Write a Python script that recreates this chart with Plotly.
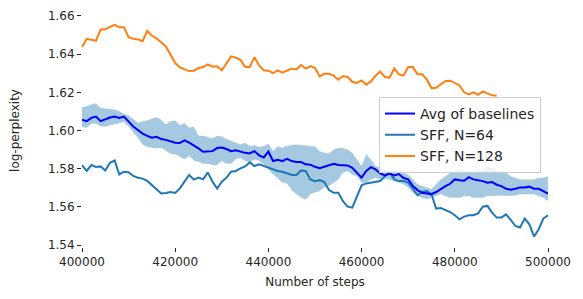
import plotly.graph_objects as go

steps = list(range(400000, 500001, 1000))

sff128 = [1.6437, 1.648, 1.6475, 1.647, 1.6529, 1.653, 1.6543, 1.6553, 1.654, 1.654,
          1.6489, 1.648, 1.6477, 1.6468, 1.6522, 1.6496, 1.6483, 1.646, 1.644, 1.6397,
          1.6353, 1.633, 1.6322, 1.6311, 1.6313, 1.6327, 1.6332, 1.6346, 1.6334, 1.6336,
          1.6315, 1.6353, 1.6388, 1.6381, 1.637, 1.6332, 1.6332, 1.6384, 1.6341, 1.6315,
          1.6313, 1.63, 1.6315, 1.6303, 1.6313, 1.6324, 1.632, 1.6343, 1.6324, 1.6337,
          1.6327, 1.6283, 1.6297, 1.6297, 1.6287, 1.6266, 1.6285, 1.628, 1.6255, 1.6249,
          1.6262, 1.624, 1.6257, 1.6287, 1.6309, 1.628, 1.6277, 1.6325, 1.6294, 1.6287,
          1.6332, 1.6332, 1.6294, 1.6294, 1.6266, 1.6222, 1.6224, 1.6241, 1.6259, 1.6261,
          1.6247, 1.6236, 1.62, 1.6189, 1.62, 1.6187, 1.6205, 1.6194, 1.6184, 1.6182]

avg_baselines = [1.6056, 1.6049, 1.6066, 1.6073, 1.6049, 1.6059, 1.6068, 1.6073, 1.6066, 1.6073,
                 1.6049, 1.6021, 1.6003, 1.5984, 1.5972, 1.5962, 1.5967, 1.5955, 1.5951, 1.5943,
                 1.5936, 1.5934, 1.5948, 1.5936, 1.5923, 1.5906, 1.5889, 1.589, 1.5892, 1.5908,
                 1.5911, 1.5903, 1.5892, 1.5897, 1.5889, 1.5883, 1.588, 1.5892, 1.587, 1.5859,
                 1.5889, 1.584, 1.5847, 1.584, 1.5852, 1.584, 1.5835, 1.5835, 1.5823, 1.5821,
                 1.581, 1.5803, 1.581, 1.5819, 1.5826, 1.5819, 1.5819, 1.5817, 1.5805, 1.5779,
                 1.5753, 1.5788, 1.5808, 1.5796, 1.5775, 1.5765, 1.5774, 1.5765, 1.5772, 1.5751,
                 1.5744, 1.5709, 1.5688, 1.5674, 1.5671, 1.5667, 1.5678, 1.5695, 1.5709, 1.5721,
                 1.5744, 1.574, 1.5737, 1.5756, 1.5744, 1.5739, 1.5735, 1.5727, 1.573, 1.5716,
                 1.5709, 1.5695, 1.569, 1.5695, 1.5702, 1.5701, 1.5706, 1.5695, 1.5695, 1.5683,
                 1.5669]

baseline_upper = [1.6122, 1.6127, 1.6136, 1.6143, 1.6118, 1.6115, 1.6111, 1.6110, 1.6101, 1.6087,
                  1.6080, 1.6061, 1.6040, 1.6049, 1.6052, 1.6063, 1.6070, 1.6056, 1.6031, 1.6049,
                  1.6052, 1.6028, 1.6038, 1.6014, 1.6021, 1.5972, 1.5972, 1.5965, 1.5958, 1.5972,
                  1.5969, 1.5955, 1.5944, 1.5937, 1.5927, 1.5936, 1.5917, 1.5923, 1.5913, 1.5918,
                  1.5930, 1.5892, 1.5918, 1.5910, 1.5920, 1.5923, 1.5927, 1.5923, 1.5923, 1.5918,
                  1.5917, 1.5892, 1.5883, 1.5880, 1.5901, 1.5909, 1.5909, 1.5901, 1.5883, 1.5848,
                  1.5814, 1.5875, 1.5848, 1.5814, 1.5805, 1.5796, 1.5788, 1.5796, 1.5788, 1.5779,
                  1.5770, 1.5744, 1.5718, 1.5709, 1.5701, 1.5692, 1.5718, 1.5744, 1.5761, 1.5779,
                  1.5788, 1.5796, 1.5788, 1.5779, 1.5788, 1.5796, 1.5788, 1.5814, 1.5805, 1.5788,
                  1.5788, 1.5779, 1.5761, 1.5753, 1.5744, 1.5744, 1.5744, 1.5744, 1.5753, 1.5753,
                  1.5761]

baseline_lower = [1.6017, 1.6014, 1.6035, 1.6037, 1.6021, 1.6021, 1.6028, 1.6035, 1.6038, 1.6045,
                  1.6021, 1.5990, 1.5962, 1.5927, 1.5913, 1.5910, 1.5906, 1.5910, 1.5896, 1.5878,
                  1.5875, 1.5861, 1.5849, 1.5866, 1.5843, 1.5837, 1.5826, 1.5826, 1.5819, 1.5819,
                  1.5840, 1.5826, 1.5826, 1.5849, 1.5857, 1.5840, 1.5833, 1.5849, 1.5840, 1.5823,
                  1.5797, 1.5770, 1.5750, 1.5727, 1.5722, 1.5687, 1.5666, 1.5649, 1.5638, 1.5666,
                  1.5675, 1.5683, 1.5701, 1.5709, 1.5727, 1.5744, 1.5779, 1.5788, 1.5770, 1.5761,
                  1.5727, 1.5727, 1.5744, 1.5753, 1.5744, 1.5747, 1.5744, 1.5735, 1.5727, 1.5718,
                  1.5701, 1.5674, 1.5657, 1.5648, 1.5640, 1.5648, 1.5657, 1.5666, 1.5657, 1.5648,
                  1.5648, 1.5648, 1.5657, 1.5657, 1.5648, 1.5648, 1.5648, 1.5657, 1.5657, 1.5657,
                  1.5660, 1.5657, 1.5657, 1.5660, 1.5666, 1.5666, 1.5666, 1.5666, 1.5657, 1.5648,
                  1.5631]

sff64 = [1.5819, 1.5788, 1.5819, 1.5809, 1.5812, 1.5791, 1.5831, 1.5843, 1.577, 1.5784,
         1.5781, 1.5762, 1.5753, 1.5748, 1.5736, 1.5715, 1.5694, 1.567, 1.5673, 1.5678,
         1.5673, 1.5697, 1.5732, 1.5767, 1.5743, 1.5753, 1.5744, 1.5781, 1.5732, 1.5696,
         1.5732, 1.5753, 1.5784, 1.5788, 1.5802, 1.5812, 1.5833, 1.5814, 1.5823, 1.5814,
         1.5802, 1.5793, 1.5788, 1.5784, 1.5776, 1.5767, 1.5767, 1.5791, 1.5788, 1.5744,
         1.5735, 1.574, 1.573, 1.5688, 1.5674, 1.5674, 1.563, 1.5601, 1.5596, 1.5657,
         1.5713, 1.5723, 1.5727, 1.5732, 1.5735, 1.5761, 1.5782, 1.5744, 1.5735, 1.5735,
         1.5727, 1.5695, 1.5661, 1.5678, 1.5683, 1.5666, 1.5591, 1.5594, 1.5584, 1.5573,
         1.5556, 1.5535, 1.5549, 1.5556, 1.5556, 1.5566, 1.5601, 1.5605, 1.557, 1.5544,
         1.5544, 1.5561, 1.5532, 1.55, 1.5492, 1.5539, 1.5509, 1.5445, 1.5483, 1.5539,
         1.5556]

x_ticks = [400000, 420000, 440000, 460000, 480000, 500000]
y_ticks = [1.54, 1.56, 1.58, 1.60, 1.62, 1.64, 1.66]

fig = go.Figure()

# shaded band of the baselines
fig.add_trace(go.Scatter(x=steps + steps[::-1], y=baseline_upper + baseline_lower[::-1],
                         fill="toself", fillcolor="rgba(31,119,180,0.4)",
                         line=dict(width=0), mode="lines", showlegend=False, hoverinfo="skip"))

fig.add_trace(go.Scatter(x=steps, y=sff64, mode="lines", name="SFF, N=64",
                         line=dict(color="#1f77b4", width=2), legendrank=2))
fig.add_trace(go.Scatter(x=steps[:len(sff128)], y=sff128, mode="lines", name="SFF, N=128",
                         line=dict(color="#ff7f0e", width=2), legendrank=3))
fig.add_trace(go.Scatter(x=steps, y=avg_baselines, mode="lines", name="Avg of baselines",
                         line=dict(color="#0000ff", width=2), legendrank=1))

fig.update_layout(
    width=583, height=299,
    margin=dict(l=82, r=35, t=14, b=52),
    paper_bgcolor="white", plot_bgcolor="white",
    font=dict(family="DejaVu Sans", size=12, color="#262626"),
    legend=dict(x=0.985, xanchor="right", y=0.644, yanchor="top",
                bgcolor="rgba(255,255,255,0.8)", bordercolor="#cccccc", borderwidth=1,
                font=dict(size=14, color="#262626"), traceorder="normal",
                tracegroupgap=0, itemwidth=30),
    showlegend=True,
)
fig.update_xaxes(range=[400000, 500000], tickvals=x_ticks, ticktext=[str(v) for v in x_ticks],
                 ticks="outside", ticklen=4, tickcolor="#262626", showgrid=False,
                 zeroline=False, showline=False, automargin=False,
                 title=dict(text="Number of steps", standoff=9, font=dict(size=12)))
fig.update_yaxes(range=[1.539, 1.661], tickvals=y_ticks, ticktext=["%.2f" % v for v in y_ticks],
                 ticks="outside", ticklen=4, tickcolor="#262626", showgrid=False,
                 zeroline=False, showline=False, automargin=False,
                 title=dict(text="log-perplexity", standoff=25, font=dict(size=12)))

fig.write_html("out.html", config={"displayModeBar": False},
               post_script="document.body.style.margin='0';document.body.style.overflow='hidden';")
